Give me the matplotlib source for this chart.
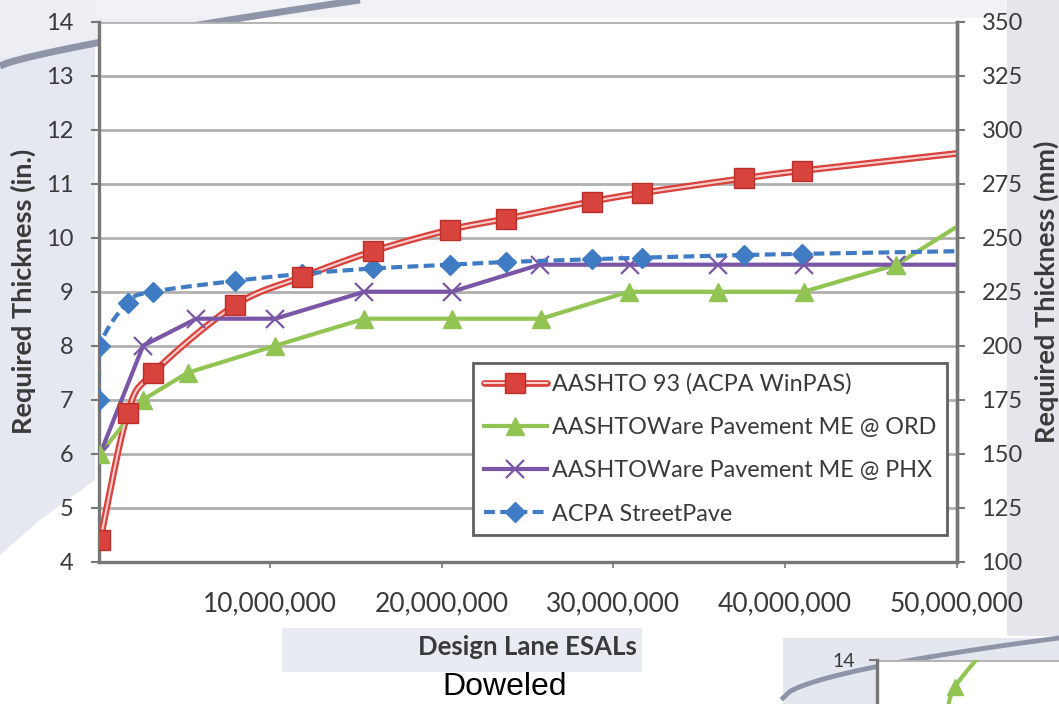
import numpy as np
import matplotlib
matplotlib.use("Agg")
import matplotlib.pyplot as plt
from matplotlib.ticker import FuncFormatter, MultipleLocator
from matplotlib.legend_handler import HandlerTuple
from matplotlib.patches import Polygon, Rectangle

plt.rcParams['font.family'] = ['Lato', 'DejaVu Sans']

# ---------------- data (Design Lane ESALs vs required thickness, in.) ----------------
aashto93_esals = [0.1e6, 1.7e6, 3.2e6, 7.95e6, 11.84e6, 16.0e6, 20.5e6, 23.75e6,
                  28.74e6, 31.7e6, 37.6e6, 41.0e6, 50.0e6]
aashto93_thk = [4.4, 6.75, 7.5, 8.75, 9.27, 9.75, 10.15, 10.35,
                10.67, 10.83, 11.1, 11.24, 11.56]

me_ord_esals = [0.1e6, 2.6e6, 5.2e6, 10.3e6, 15.5e6, 20.6e6, 25.8e6, 30.9e6,
                36.1e6, 41.1e6, 46.5e6, 50.0e6]
me_ord_thk = [6.0, 7.0, 7.5, 8.0, 8.5, 8.5, 8.5, 9.0, 9.0, 9.0, 9.5, 10.2]

me_phx_esals = [0.1e6, 2.6e6, 5.7e6, 10.3e6, 15.5e6, 20.6e6, 25.7e6, 31.0e6,
                36.1e6, 41.1e6, 46.5e6, 50.0e6]
me_phx_thk = [6.0, 8.0, 8.5, 8.5, 9.0, 9.0, 9.5, 9.5, 9.5, 9.5, 9.5, 9.5]

streetpave_esals = [0.05e6, 0.1e6, 1.7e6, 3.2e6, 7.95e6, 11.84e6, 16.0e6, 20.5e6,
                    23.75e6, 28.74e6, 31.7e6, 37.6e6, 41.0e6, 50.0e6]
streetpave_thk = [7.0, 8.0, 8.8, 9.0, 9.2, 9.33, 9.43, 9.5,
                  9.55, 9.6, 9.63, 9.68, 9.7, 9.75]

series_names = ["AASHTO 93 (ACPA WinPAS)",
                "AASHTOWare Pavement ME @ ORD",
                "AASHTOWare Pavement ME @ PHX",
                "ACPA StreetPave"]

x_ticks = [10e6, 20e6, 30e6, 40e6, 50e6]
mm_ticks = [100, 125, 150, 175, 200, 225, 250, 275, 300, 325, 350]

# second (partially visible) chart in the corner
corner_esals = [4.1e6, 4.56e6, 6.6e6]
corner_thk = [13.0, 13.5, 14.3]

RED, RED_IN, RED_EDGE = '#d9433d', '#f6cfcf', '#b9302a'
GREEN = '#92c453'
PURPLE = '#7a56a6'
BLUE = '#3f7cc4'
GRID = '#b0b0b0'
SPINE = '#777777'
TXT = '#3a3a3a'


def smooth(xs, ys, n=30):
    """Cubic Bezier spline through the points (spreadsheet-style smoothed line)."""
    P = np.column_stack([xs, ys]).astype(float)
    out = [P[0]]
    t = np.linspace(0, 1, n)[1:, None]
    for i in range(len(P) - 1):
        p0 = P[i - 1] if i > 0 else P[i]
        p1, p2 = P[i], P[i + 1]
        p3 = P[i + 2] if i + 2 < len(P) else P[i + 1]
        c1 = p1 + (p2 - p0) / 6.0
        c2 = p2 - (p3 - p1) / 6.0
        seg = (1 - t) ** 3 * p1 + 3 * (1 - t) ** 2 * t * c1 + 3 * (1 - t) * t ** 2 * c2 + t ** 3 * p2
        out.extend(seg)
    out = np.array(out)
    return out[:, 0], out[:, 1]


W, H = 1059, 704
fig = plt.figure(figsize=(W / 100, H / 100), dpi=100)
fig.patch.set_facecolor('white')

# ---------------- slide background ----------------
bg = fig.add_axes([0, 0, 1, 1], zorder=-5)
bg.set_xlim(0, W)
bg.set_ylim(H, 0)
bg.axis('off')
bg.add_patch(Polygon([[0, 0], [340, 0], [95, 40], [95, 480], [40, 520], [0, 555]],
                     closed=True, fc='#e5e8f0', ec='none'))
bg.add_patch(Polygon([[0, 0], [340, 0], [0, 58]], closed=True, fc='#eceef3', ec='none'))
bg.add_patch(Rectangle((95, 0), 912, 18, fc='#f1f2f5', ec='none'))
bg.add_patch(Rectangle((1007, 0), 52, 636, fc='#e4e6ec', ec='none'))
bg.add_patch(Rectangle((282, 628), 360, 44, fc='#e8ebf2', ec='none'))
bg.add_patch(Rectangle((783, 638), 276, 66, fc='#e4e7ee', ec='none'))
sx = np.linspace(0, 360, 60)
bg.plot(sx, 66 - 66 * (sx / 360) ** 0.8, color='#8f95a8', lw=5, solid_capstyle='butt')
cx = np.linspace(783, 1059, 40)
bg.plot(cx, 698 - 60 * ((cx - 783) / 276) ** 0.6, color='#8f95a8', lw=3.5)

# ---------------- main chart ----------------
ax = fig.add_axes([98.5 / W, 1 - 561.7 / H, 858 / W, 540 / H])
ax.set_facecolor('white')
ax.set_xlim(0, 50e6)
ax.set_ylim(4, 14)
ax.yaxis.set_major_locator(MultipleLocator(1))
ax.set_xticks(x_ticks)
ax.xaxis.set_major_formatter(FuncFormatter(lambda v, p: f"{int(v):,}"))
ax.grid(axis='y', color=GRID, lw=2.0, zorder=0)
ax.set_axisbelow(True)
ax.spines['top'].set_visible(False)
for s in ['left', 'right', 'bottom']:
    ax.spines[s].set_color(SPINE)
    ax.spines[s].set_linewidth(2.4)
ax.tick_params(axis='y', length=6, width=1.5, color=SPINE, labelsize=17,
               labelcolor=TXT, pad=12)
ax.tick_params(axis='x', length=4, width=1.2, color=SPINE, labelsize=19,
               labelcolor=TXT, pad=17)
ax.set_ylabel("Required Thickness (in.)", fontsize=19.5, fontweight='bold', color=TXT, labelpad=7)
ax.set_xlabel("Design Lane ESALs", fontsize=18.5, fontweight='bold', color=TXT, labelpad=14)

# AASHTO 93: smoothed compound line with square markers
rx, ry = smooth(aashto93_esals, aashto93_thk)
l_red_o, = ax.plot(rx, ry, color=RED, lw=4.8, zorder=3, solid_capstyle='round')
l_red_i, = ax.plot(rx, ry, color=RED_IN, lw=1.5, zorder=3.1)
m_red, = ax.plot(aashto93_esals[:-1], aashto93_thk[:-1], ls='none', marker='s', ms=14.5,
                 mfc=RED, mec=RED_EDGE, mew=1, zorder=6)

# Pavement ME @ ORD: straight segments, triangles
l_grn, = ax.plot(me_ord_esals, me_ord_thk, color=GREEN, lw=3.0, zorder=3)
m_grn, = ax.plot(me_ord_esals[:-1], me_ord_thk[:-1], ls='none', marker='^', ms=13,
                 mfc=GREEN, mec=GREEN, zorder=5)

# Pavement ME @ PHX: straight segments, x markers
l_pur, = ax.plot(me_phx_esals, me_phx_thk, color=PURPLE, lw=3.0, zorder=4,
                 marker='x', ms=13, mew=1.6, mec=PURPLE,
                 markevery=list(range(len(me_phx_esals) - 1)))

# StreetPave: dashed smoothed line, diamonds
bx, by = smooth(streetpave_esals, streetpave_thk)
l_blu, = ax.plot(bx, by, color=BLUE, lw=3.0, dashes=(2.6, 1.3), zorder=4)
m_blu, = ax.plot(streetpave_esals[:-1], streetpave_thk[:-1], ls='none', marker='D', ms=10.5,
                 mfc=BLUE, mec=BLUE, zorder=5)

# right axis in mm
ax2 = ax.twinx()
ax2.set_ylim(100, 350)
ax2.set_yticks(mm_ticks)
for s in ['top', 'left', 'bottom']:
    ax2.spines[s].set_visible(False)
ax2.spines['right'].set_color(SPINE)
ax2.spines['right'].set_linewidth(2.4)
ax2.tick_params(axis='y', length=6, width=1.5, color=SPINE, labelsize=17,
                labelcolor=TXT, pad=12)
ax2.set_ylabel("Required Thickness (mm)", fontsize=19.5, fontweight='bold', color=TXT,
               labelpad=8)

# legend
h_red = (l_red_o, l_red_i, m_red)
h_grn = (l_grn, m_grn)
h_blu = (l_blu, m_blu)
leg = ax2.legend([h_red, h_grn, l_pur, h_blu], series_names,
                 handler_map={tuple: HandlerTuple(ndivide=1)},
                 loc='upper left', bbox_to_anchor=((473 - 98.5) / 858, 1 - (363 - 21.7) / 540),
                 borderaxespad=0, fontsize=16.8, handlelength=2.7, handletextpad=0.25,
                 labelspacing=0.95, borderpad=0.45, frameon=True, fancybox=False, framealpha=1,
                 edgecolor='#606060', labelcolor=TXT)
leg.get_frame().set_linewidth(2.0)

# caption under the chart
fig.text(505 / W, 1 - 687 / H, "Doweled", ha='center', va='center', fontsize=23,
         family=['Liberation Sans', 'DejaVu Sans'], color='black')

# ---------------- partially visible second chart ----------------
axc = fig.add_axes([876.7 / W, 0, (W - 876.7) / W, 44 / H])
axc.set_facecolor('white')
axc.set_xlim(0, (W - 876.7) / 171.6 * 10e6)
axc.set_ylim(14 - 44 / 54, 14)
axc.set_yticks([14])
axc.set_xticks([])
axc.grid(axis='y', color=GRID, lw=2.0)
for s in ['top', 'right', 'bottom']:
    axc.spines[s].set_visible(False)
axc.spines['left'].set_color(SPINE)
axc.spines['left'].set_linewidth(2.4)
axc.tick_params(axis='y', length=6, width=1.5, color=SPINE, labelsize=14, labelcolor=TXT, pad=10)
cxs, cys = smooth(corner_esals, corner_thk)
axc.plot(cxs, cys, color=GREEN, lw=3.0)
axc.plot(corner_esals[1:2], corner_thk[1:2], ls='none', marker='^', ms=12, color=GREEN)

fig.savefig("out.png", dpi=100)
